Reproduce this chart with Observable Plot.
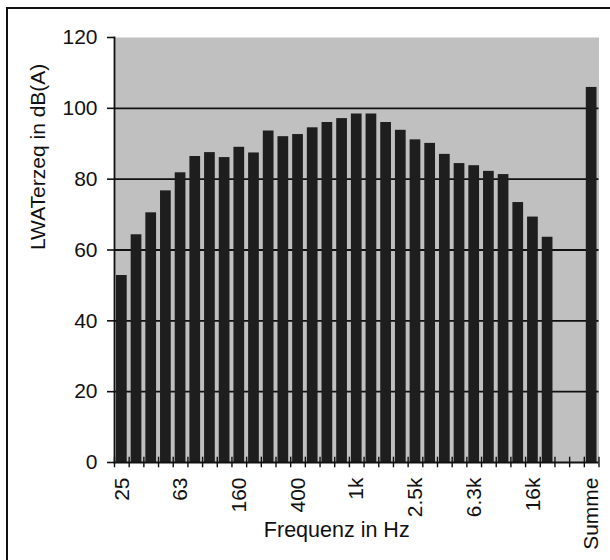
<!DOCTYPE html>
<html>
<head>
<meta charset="utf-8">
<script src="https://cdn.jsdelivr.net/npm/d3@7"></script>
<script src="https://cdn.jsdelivr.net/npm/@observablehq/plot@0.6"></script>
<style>
  html, body { margin: 0; padding: 0; background: white; }
  #wrap { position: relative; width: 610px; height: 560px; overflow: hidden; }
  #border { position: absolute; left: 6px; top: 7px; width: 620px; height: 580px; border: 2px solid #111; box-sizing: border-box; pointer-events: none; }
  #chart { position: absolute; left: 0; top: 0; }
</style>
</head>
<body>
<div id="wrap"><div id="chart"></div><div id="border"></div></div>
<script>
// Third-octave bands (Hz)
const bands = ["25","31.5","40","50","63","80","100","125","160","200","250","315","400","500","630","800","1k","1.25k","1.6k","2k","2.5k","3.15k","4k","5k","6.3k","8k","10k","12.5k","16k","20k"];
// LWATerzeq in dB(A)
const levels = [52.8,64.3,70.5,76.7,81.8,86.4,87.5,86.1,89.0,87.4,93.6,92.0,92.6,94.5,96.0,97.1,98.4,98.4,96.0,93.8,91.1,90.1,87.0,84.4,83.8,82.2,81.3,73.4,69.3,63.6];
const sumLabel = "Summe";
const sumLevel = 105.9;
const gapSlots = ["gap1", "gap2"];
const xTickLabels = ["25","63","160","400","1k","2.5k","6.3k","16k","Summe"];
const yTicks = [0,20,40,60,80,100,120];
const yGrid = [20,40,60,80,100];
const xTitle = "Frequenz in Hz";
const yTitle = "LWATerzeq in dB(A)";

const domain = [...bands, ...gapSlots, sumLabel];
const data = bands.map((b, i) => ({band: b, level: levels[i]})).concat([{band: sumLabel, level: sumLevel}]);

const W = 610, H = 560, mL = 114, mR = 11.5, mT = 37, mB = 98;
const step = (W - mL - mR) / domain.length;

const chart = Plot.plot({
  width: W, height: H,
  marginLeft: mL, marginRight: mR, marginTop: mT, marginBottom: mB,
  style: {fontFamily: "'Liberation Sans', Arial, sans-serif", fontSize: "21px", background: "transparent", color: "#111"},
  x: {type: "band", domain, paddingInner: 0.27, paddingOuter: 0.135, round: false},
  y: {domain: [0, 120]},
  marks: [
    Plot.frame({fill: "#c0c0c0", stroke: null}),
    Plot.gridY(yGrid, {stroke: "#111", strokeOpacity: 1, strokeWidth: 1.8}),
    Plot.barY(data, {x: "band", y: "level", fill: "#1e1e1e"}),
    Plot.ruleY([0], {stroke: "#111", strokeWidth: 1.8}),
    Plot.frame({anchor: "left", stroke: "#111", strokeWidth: 1.8}),
    // category boundary tick marks
    Plot.ruleX(domain, {x: d => d, y1: -1.5, y2: 1.5, dx: step / 2, stroke: "#111", strokeWidth: 1.4}),
    Plot.ruleX([domain[0]], {x: d => d, y1: -1.5, y2: 1.5, dx: -step / 2, stroke: "#111", strokeWidth: 1.4}),
    Plot.axisY({ticks: yTicks, tickSize: 7, tickPadding: 10, label: null, fontSize: 21, strokeWidth: 1.6}),
    Plot.axisX({ticks: xTickLabels, tickSize: 0, tickRotate: -90, tickPadding: 15, label: null, fontSize: 21}),
    Plot.text([xTitle], {frameAnchor: "bottom", dy: 74, dx: -20, fontSize: 21.5, fill: "#111"}),
    Plot.text([yTitle], {frameAnchor: "left", dx: -76, dy: 0, rotate: -90, fontSize: 21, fill: "#111"})
  ]
});
document.getElementById("chart").appendChild(chart);
</script>
</body>
</html>
